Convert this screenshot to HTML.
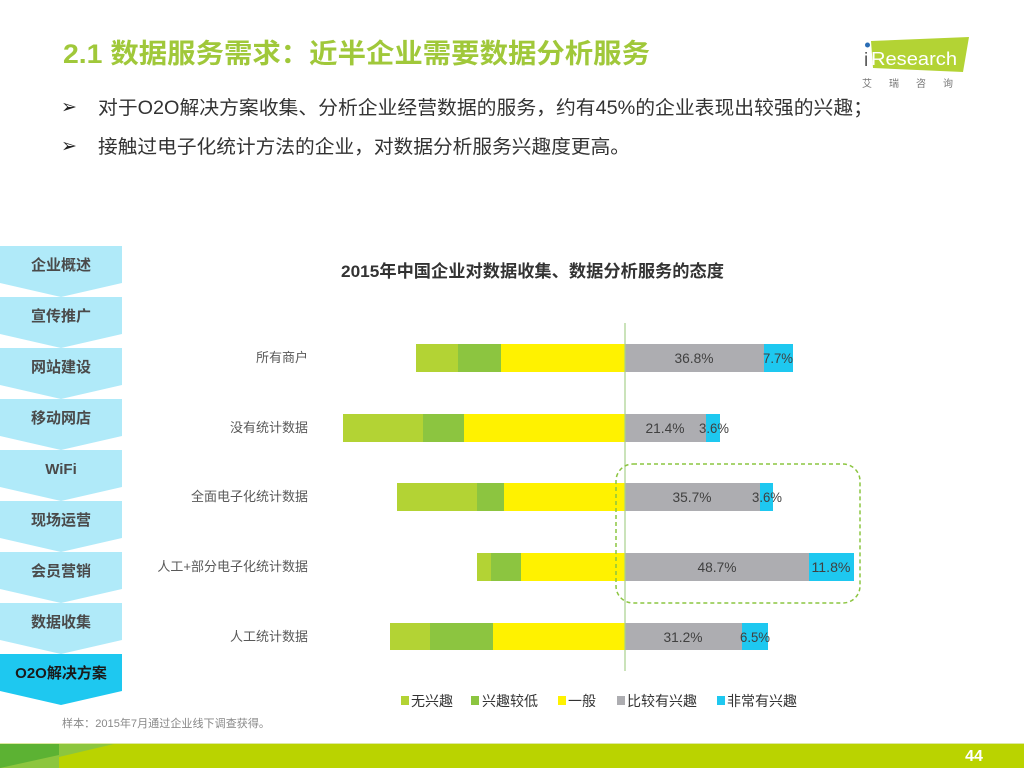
<!DOCTYPE html>
<html><head><meta charset="utf-8"><style>
html,body{margin:0;padding:0;background:#fff;}
svg{display:block;}
text{font-family:"Liberation Sans","Noto Sans CJK SC",sans-serif;}
</style></head><body>
<svg width="1024" height="768" viewBox="0 0 1024 768" xmlns="http://www.w3.org/2000/svg">
<rect width="1024" height="768" fill="#fff"/>
<!-- Title -->
<text x="63" y="63" font-size="27" font-weight="bold" fill="#a0c83a" textLength="587" lengthAdjust="spacingAndGlyphs">2.1 数据服务需求：近半企业需要数据分析服务</text>
<!-- Logo -->
<polygon points="871,41 969,37 963,72 873,68" fill="#b3d334"/>
<text x="864" y="66" font-size="19" fill="#555">i</text>
<circle cx="867.5" cy="45" r="2.5" fill="#2a6db5"/>
<text x="871" y="65" font-size="18" fill="#fff" textLength="86" lengthAdjust="spacingAndGlyphs">Research</text>
<text x="862" y="87" font-size="10" fill="#777" letter-spacing="17">艾瑞咨询</text>
<!-- Bullets -->
<text x="61" y="113" font-size="19" fill="#222">➢</text>
<text x="98" y="114" font-size="19" fill="#333" textLength="775" lengthAdjust="spacingAndGlyphs">对于O2O解决方案收集、分析企业经营数据的服务，约有45%的企业表现出较强的兴趣；</text>
<text x="61" y="152" font-size="19" fill="#222">➢</text>
<text x="98" y="153" font-size="19" fill="#333" textLength="532" lengthAdjust="spacingAndGlyphs">接触过电子化统计方法的企业，对数据分析服务兴趣度更高。</text>
<!-- Left nav -->
<g font-size="15" font-weight="bold" text-anchor="middle">
<polygon points="0,246 122,246 122,283 61,297 0,283" fill="#b0eaf9"/><text x="61" y="270" fill="#4a4a4a">企业概述</text>
<polygon points="0,297 122,297 122,334 61,348 0,334" fill="#b0eaf9"/><text x="61" y="321" fill="#4a4a4a">宣传推广</text>
<polygon points="0,348 122,348 122,385 61,399 0,385" fill="#b0eaf9"/><text x="61" y="372" fill="#4a4a4a">网站建设</text>
<polygon points="0,399 122,399 122,436 61,450 0,436" fill="#b0eaf9"/><text x="61" y="423" fill="#4a4a4a">移动网店</text>
<polygon points="0,450 122,450 122,487 61,501 0,487" fill="#b0eaf9"/><text x="61" y="474" fill="#4a4a4a">WiFi</text>
<polygon points="0,501 122,501 122,538 61,552 0,538" fill="#b0eaf9"/><text x="61" y="525" fill="#4a4a4a">现场运营</text>
<polygon points="0,552 122,552 122,589 61,603 0,589" fill="#b0eaf9"/><text x="61" y="576" fill="#4a4a4a">会员营销</text>
<polygon points="0,603 122,603 122,640 61,654 0,640" fill="#b0eaf9"/><text x="61" y="627" fill="#4a4a4a">数据收集</text>
<polygon points="0,654 122,654 122,691 61,705 0,691" fill="#1ec8f0"/><text x="61" y="678" fill="#1a1a1a">O2O解决方案</text>
</g>
<!-- Chart title -->
<text x="341" y="277" font-size="17" font-weight="bold" fill="#333" textLength="383" lengthAdjust="spacingAndGlyphs">2015年中国企业对数据收集、数据分析服务的态度</text>
<!-- Row labels -->
<g font-size="13" fill="#595959" text-anchor="end">
<text x="308" y="362">所有商户</text>
<text x="308" y="432">没有统计数据</text>
<text x="308" y="501">全面电子化统计数据</text>
<text x="308" y="571">人工+部分电子化统计数据</text>
<text x="308" y="641">人工统计数据</text>
</g>
<!-- Bars -->
<g>
<rect x="416" y="344" width="42" height="28" fill="#b3d334"/><rect x="458" y="344" width="43" height="28" fill="#8cc540"/><rect x="501" y="344" width="124" height="28" fill="#fff200"/><rect x="625" y="344" width="139" height="28" fill="#adadb1"/><rect x="764" y="344" width="29" height="28" fill="#1ec8f0"/>
<rect x="343" y="414" width="80" height="28" fill="#b3d334"/><rect x="423" y="414" width="41" height="28" fill="#8cc540"/><rect x="464" y="414" width="161" height="28" fill="#fff200"/><rect x="625" y="414" width="81" height="28" fill="#adadb1"/><rect x="706" y="414" width="14" height="28" fill="#1ec8f0"/>
<rect x="397" y="483" width="80" height="28" fill="#b3d334"/><rect x="477" y="483" width="27" height="28" fill="#8cc540"/><rect x="504" y="483" width="121" height="28" fill="#fff200"/><rect x="625" y="483" width="135" height="28" fill="#adadb1"/><rect x="760" y="483" width="13" height="28" fill="#1ec8f0"/>
<rect x="477" y="553" width="14" height="28" fill="#b3d334"/><rect x="491" y="553" width="30" height="28" fill="#8cc540"/><rect x="521" y="553" width="104" height="28" fill="#fff200"/><rect x="625" y="553" width="184" height="28" fill="#adadb1"/><rect x="809" y="553" width="45" height="28" fill="#1ec8f0"/>
<rect x="390" y="623" width="40" height="27" fill="#b3d334"/><rect x="430" y="623" width="63" height="27" fill="#8cc540"/><rect x="493" y="623" width="132" height="27" fill="#fff200"/><rect x="625" y="623" width="117" height="27" fill="#adadb1"/><rect x="742" y="623" width="26" height="27" fill="#1ec8f0"/>
</g>
<line x1="625" y1="323" x2="625" y2="671" stroke="#a8d08d" stroke-width="1.2"/>
<!-- Data labels -->
<g font-size="14" fill="#404040" text-anchor="middle">
<text x="694" y="363" textLength="39" lengthAdjust="spacingAndGlyphs">36.8%</text><text x="778" y="363" textLength="30" lengthAdjust="spacingAndGlyphs">7.7%</text>
<text x="665" y="433" textLength="39" lengthAdjust="spacingAndGlyphs">21.4%</text><text x="714" y="433" textLength="30" lengthAdjust="spacingAndGlyphs">3.6%</text>
<text x="692" y="502" textLength="39" lengthAdjust="spacingAndGlyphs">35.7%</text><text x="767" y="502" textLength="30" lengthAdjust="spacingAndGlyphs">3.6%</text>
<text x="717" y="572" textLength="39" lengthAdjust="spacingAndGlyphs">48.7%</text><text x="831" y="572" textLength="39" lengthAdjust="spacingAndGlyphs">11.8%</text>
<text x="683" y="642" textLength="39" lengthAdjust="spacingAndGlyphs">31.2%</text><text x="755" y="642" textLength="30" lengthAdjust="spacingAndGlyphs">6.5%</text>
</g>
<!-- Dashed highlight -->
<rect x="616" y="464" width="244" height="139" rx="17" ry="17" fill="none" stroke="#8cc540" stroke-width="1.5" stroke-dasharray="4,3"/>
<!-- Legend -->
<g font-size="14" fill="#333">
<rect x="401" y="696" width="8" height="9" fill="#b3d334"/><text x="411" y="706">无兴趣</text>
<rect x="471" y="696" width="8" height="9" fill="#8cc540"/><text x="482" y="706">兴趣较低</text>
<rect x="558" y="696" width="8" height="9" fill="#fff200"/><text x="568" y="706">一般</text>
<rect x="617" y="696" width="8" height="9" fill="#adadb1"/><text x="627" y="706">比较有兴趣</text>
<rect x="717" y="696" width="8" height="9" fill="#1ec8f0"/><text x="727" y="706">非常有兴趣</text>
</g>
<!-- Footnote -->
<text x="62" y="727" font-size="11" fill="#888" textLength="208" lengthAdjust="spacingAndGlyphs">样本：2015年7月通过企业线下调查获得。</text>
<!-- Bottom band -->
<rect x="0" y="743" width="1024" height="25" fill="#bad300"/>
<rect x="0" y="743" width="59" height="25" fill="#5cb233"/>
<polygon points="0,768 59,755 59,768" fill="#8cc63e"/>
<polygon points="59,743 118,743 59,757" fill="#8cc63e"/>
<line x1="0" y1="743.5" x2="1024" y2="743.5" stroke="#dde9a0" stroke-width="1"/>
<text x="974" y="761" font-size="16" font-weight="bold" fill="#fff" text-anchor="middle">44</text>
</svg>
</body></html>
